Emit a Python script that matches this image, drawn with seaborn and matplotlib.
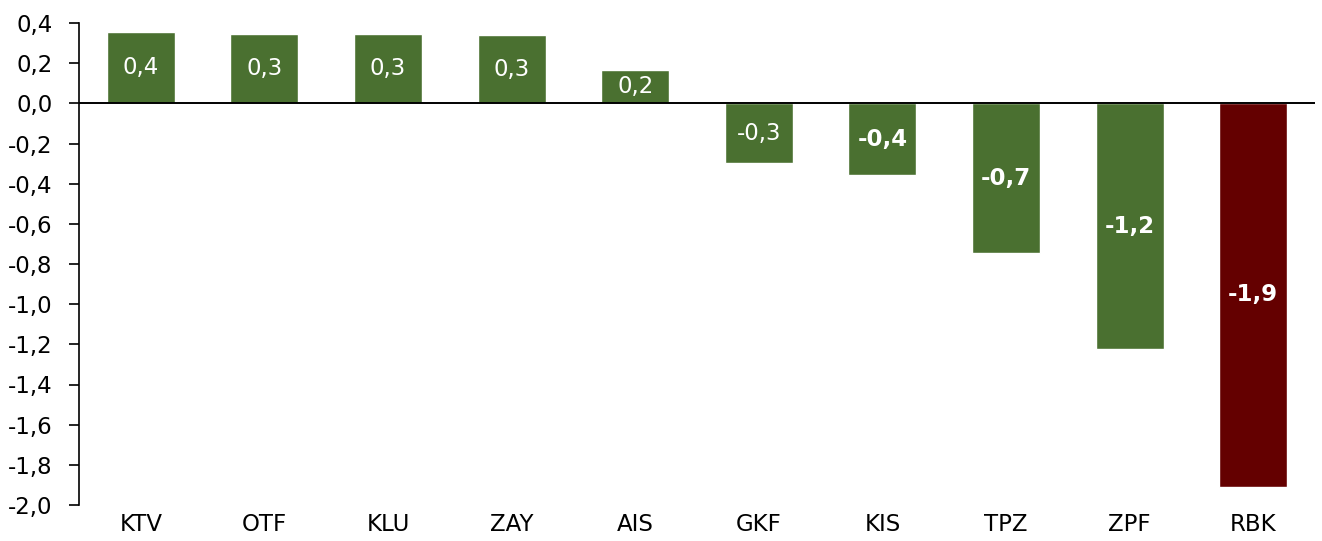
import matplotlib
matplotlib.use("Agg")
import matplotlib.pyplot as plt
import seaborn as sns
import pandas as pd

categories = ["KTV", "OTF", "KLU", "ZAY", "AIS", "GKF", "KIS", "TPZ", "ZPF", "RBK"]
values = [0.356, 0.346, 0.346, 0.341, 0.168, -0.296, -0.358, -0.745, -1.224, -1.908]
bold_labels = [False, False, False, False, False, False, True, True, True, True]
colors = ["#4A7030"] * 9 + ["#640000"]
y_ticks = [0.4, 0.2, 0.0, -0.2, -0.4, -0.6, -0.8, -1.0, -1.2, -1.4, -1.6, -1.8, -2.0]

sns.set_style("white")
plt.rcParams['font.family'] = ['DejaVu Sans']

df = pd.DataFrame({"cat": categories, "val": values})

fig = plt.figure(figsize=(13.22, 5.41), dpi=100)
ax = fig.add_axes([79 / 1322, 36 / 541, 1236 / 1322, 482 / 541])

sns.barplot(data=df, x="cat", y="val", hue="cat", palette=colors, legend=False,
            width=0.55, ax=ax, saturation=1)

ax.set_ylim(-2.0, 0.4)
ax.set_xlim(-0.5, len(categories) - 0.5)
ax.set_yticks(y_ticks)
ax.set_yticklabels([f"{t:.1f}".replace(".", ",") for t in y_ticks], fontsize=16.5, color="black")
ax.tick_params(axis="y", direction="out", length=7, width=1.2, color="black", pad=12, left=True,
               labelcolor="black")
ax.tick_params(axis="x", length=0, labelsize=16.5, pad=6, labelcolor="black")
ax.set_xlabel("")
ax.set_ylabel("")

for s in ["top", "right", "bottom"]:
    ax.spines[s].set_visible(False)
ax.spines["left"].set_color("black")
ax.spines["left"].set_linewidth(1.2)
ax.axhline(0, color="black", linewidth=1.4, zorder=3)

for i, (v, b) in enumerate(zip(values, bold_labels)):
    txt = f"{v:.1f}".replace(".", ",")
    ax.text(i, v / 2, txt, ha="center", va="center", color="white",
            fontsize=16.5, fontweight="bold" if b else "normal", zorder=4)

fig.savefig("out.png", dpi=100)
